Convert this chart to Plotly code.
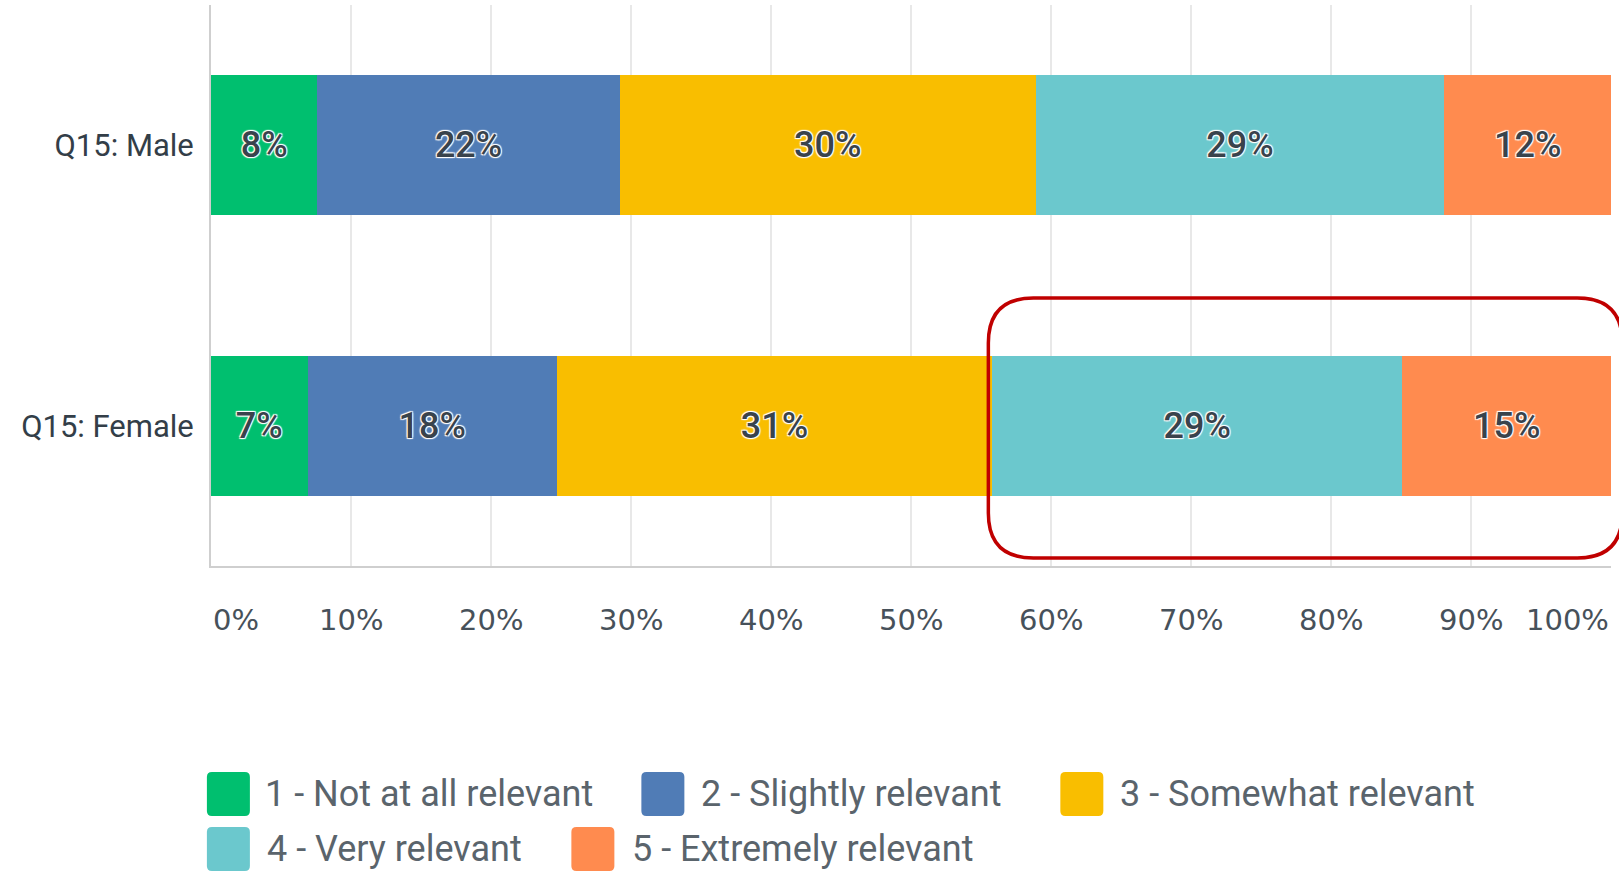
import plotly.graph_objects as go

categories = ["Q15: Male", "Q15: Female"]
series_names = ["1 - Not at all relevant", "2 - Slightly relevant", "3 - Somewhat relevant",
                "4 - Very relevant", "5 - Extremely relevant"]
male_values = [7.6, 21.6, 29.7, 29.2, 11.9]
female_values = [6.9, 17.8, 31.1, 29.3, 14.9]
colors = ["#00BF6F", "#507CB6", "#F9BE00", "#6BC8CD", "#FF8B4F"]
tick_values = [0, 10, 20, 30, 40, 50, 60, 70, 80, 90, 100]
tick_labels = ["0%", "10%", "20%", "30%", "40%", "50%", "60%", "70%", "80%", "90%", "100%"]

W, H = 1619, 871
ML, MR, MT, MB = 210.6, 8.3, 5, 305
PW = W - ML - MR
PH = H - MT - MB

def px_x(px):
    return (px - ML) / PW

def px_y(py):
    return (H - MB - py) / PH

FONT = "Roboto"
TEXT_DARK = "#333e48"
LEG_TEXT = "#5a646c"

fig = go.Figure()
for i, name in enumerate(series_names):
    fig.add_trace(go.Bar(
        y=categories,
        x=[male_values[i], female_values[i]],
        name=name,
        orientation="h",
        marker=dict(color=colors[i], line=dict(width=0)),
        texttemplate="%{x:.0f}%",
        textposition="inside",
        insidetextanchor="middle",
        textangle=0,
        textfont=dict(family=FONT, size=36, color="#39434c", weight=500,
                      shadow="1px 1px 1px #fff, -1px -1px 1px #fff, 1px -1px 1px #fff, -1px 1px 1px #fff"),
        hoverinfo="skip",
        showlegend=False,
    ))

# x tick labels (first/last kept inside the plot width)
annotations = []
for v, t in zip(tick_values, tick_labels):
    anchor = "center"
    if v == tick_values[0]:
        anchor = "left"
    elif v == tick_values[-1]:
        anchor = "right"
    annotations.append(dict(x=v, y=px_y(620), xref="x", yref="paper", text=t, showarrow=False,
                            xanchor=anchor, yanchor="middle",
                            font=dict(family="DejaVu Sans", size=29, color="#47515a")))

def P(x, y):
    return f"{px_x(x):.5f},{px_y(y):.5f}"

def rounded(x0, y0, x1, y1, r):
    return (f"M {P(x0 + r, y0)} L {P(x1 - r, y0)} Q {P(x1, y0)} {P(x1, y0 + r)} "
            f"L {P(x1, y1 - r)} Q {P(x1, y1)} {P(x1 - r, y1)} "
            f"L {P(x0 + r, y1)} Q {P(x0, y1)} {P(x0, y1 - r)} "
            f"L {P(x0, y0 + r)} Q {P(x0, y0)} {P(x0 + r, y0)} Z")

# custom legend
shapes = []
legend_rows = [
    [(206.5, 263), (641, 699), (1060, 1118)],
    [(206.5, 265), (571, 630)],
]
row_centers = [794, 849]
idx = 0
for r, row in enumerate(legend_rows):
    cy = row_centers[r]
    for sx, tx in row:
        shapes.append(dict(type="path", xref="paper", yref="paper",
                           path=rounded(sx, cy - 22, sx + 43, cy + 22, 5),
                           fillcolor=colors[idx], line=dict(width=0), layer="above"))
        annotations.append(dict(x=px_x(tx), y=px_y(cy), xref="paper", yref="paper",
                                text=series_names[idx], showarrow=False, xanchor="left", yanchor="middle",
                                font=dict(family=FONT, size=36, color=LEG_TEXT)))
        idx += 1

# red highlight rounded rectangle
shapes.append(dict(type="path", xref="paper", yref="paper", path=rounded(988, 298, 1622, 558, 45),
                   line=dict(color="#C00000", width=3.5), fillcolor="rgba(0,0,0,0)", layer="above"))

fig.update_layout(
    width=W, height=H,
    barmode="stack",
    bargap=0.5,
    margin=dict(l=ML, r=MR, t=MT, b=MB, pad=0),
    plot_bgcolor="white",
    paper_bgcolor="white",
    xaxis=dict(range=[0, 100], tickvals=tick_values, showticklabels=False,
               showgrid=True, gridcolor="#e8e8e8", gridwidth=1.5,
               showline=True, linecolor="#cfcfcf", linewidth=2, zeroline=False, fixedrange=True),
    yaxis=dict(range=[1.5, -0.5], showline=True, linecolor="#cfcfcf", linewidth=2,
               showgrid=False, ticks="", ticklabelstandoff=9,
               tickfont=dict(family=FONT, size=31, color=TEXT_DARK), fixedrange=True),
    annotations=annotations,
    shapes=shapes,
    showlegend=False,
)

fig.write_html("out.html", config={"displayModeBar": False},
               post_script="document.body.style.margin='0px';document.body.style.overflow='hidden';")
